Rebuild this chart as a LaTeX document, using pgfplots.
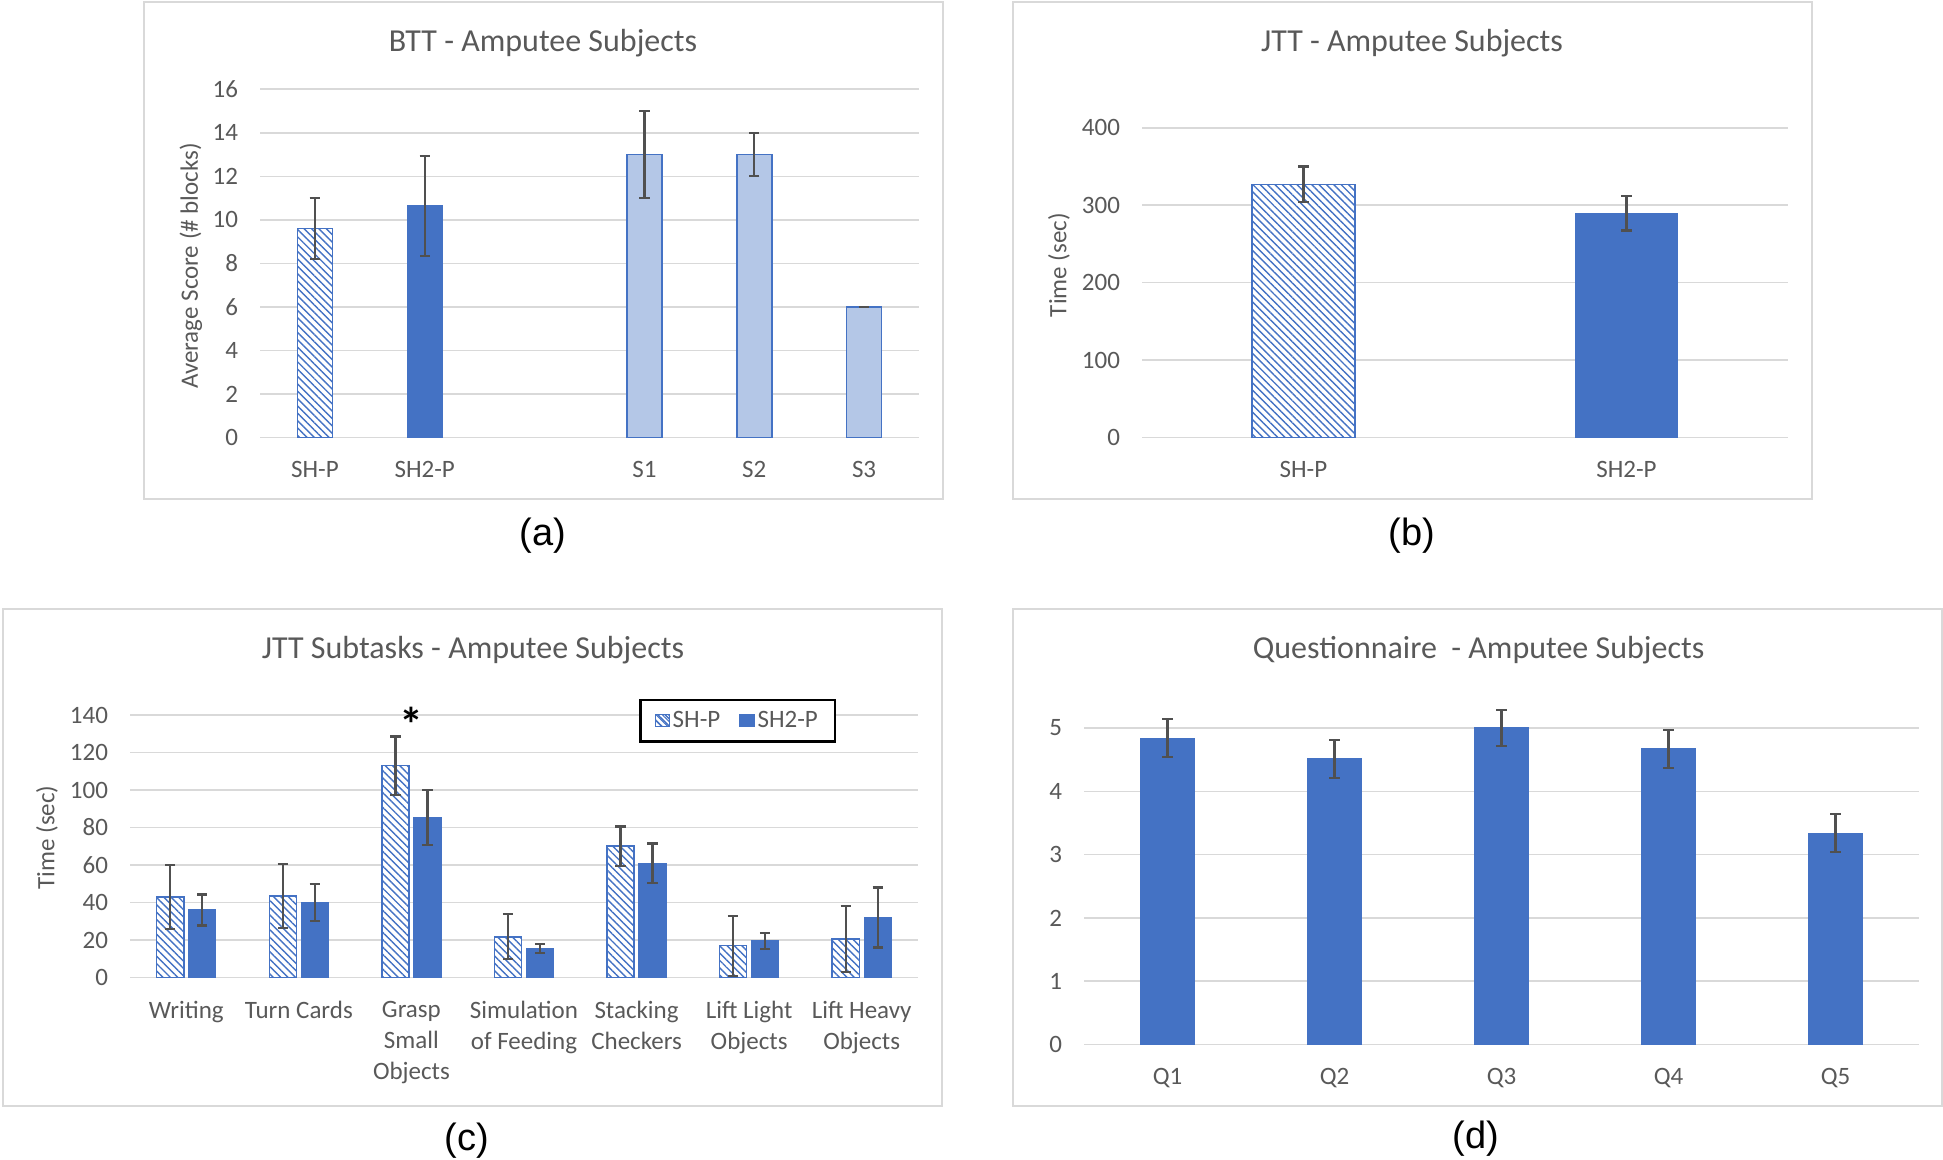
\documentclass[border=0pt]{standalone}
\usepackage{fontspec}
\setmainfont{Carlito}
\newfontfamily\arialf{Liberation Sans}
\usepackage{pgfplots}
\pgfplotsset{compat=1.18}
\usetikzlibrary{patterns.meta}
\definecolor{obl}{HTML}{4472C4}
\definecolor{olt}{HTML}{B4C7E7}
\definecolor{tgray}{HTML}{595959}
\definecolor{ggray}{HTML}{D9D9D9}
\definecolor{egray}{HTML}{505050}
\pgfplotsset{
  excel/.style={
    scale only axis, anchor=south west, enlargelimits=false, clip=false,
    ymin=0,
    axis line style={draw=none}, major tick length=0pt, tick style={draw=none},
    ymajorgrids, grid style={draw=ggray, line width=0.8pt},
    /pgf/number format/assume math mode=true,
    ticklabel style={font=\fontsize{12.5}{15.5}\selectfont, text=tgray},
    yticklabel style={xshift=-7.5pt},
    xticklabel style={yshift=-8.5pt},
    ylabel style={font=\fontsize{12.5}{15}\selectfont, text=tgray, anchor=center},
    ybar,
  },
  hatch/.style={draw=obl, line width=0.75pt, fill=white,
    postaction={pattern={Lines[angle=-45,distance=2.6pt,line width=0.7pt]}, pattern color=obl}},
  solidb/.style={draw=obl, fill=obl, line width=0.5pt},
  lightb/.style={draw=obl, fill=olt, line width=0.75pt},
  errb/.style={/pgfplots/error bars/y dir=both, /pgfplots/error bars/y explicit,
    /pgfplots/error bars/error bar style={draw=egray, line width=1.1pt},
    /pgfplots/error bars/error mark options={rotate=90, draw=egray, line width=1.1pt, mark size=2.6pt}},
}
\newcommand{\cl}[1]{\hbox to 0pt{\hss #1\hss}}
\newcommand{\lblGrasp}{\vtop{\cl{Grasp}\cl{Small}\cl{Objects}}}
\newcommand{\lblSim}{\vtop{\cl{Simulation}\cl{of Feeding}}}
\newcommand{\lblStack}{\vtop{\cl{Stacking}\cl{Checkers}}}
\newcommand{\lblLight}{\vtop{\cl{Lift Light}\cl{Objects}}}
\newcommand{\lblHeavy}{\vtop{\cl{Lift Heavy}\cl{Objects}}}
\begin{document}
\begin{tikzpicture}
\useasboundingbox (0pt,0pt) rectangle (971.5pt,580pt);
% panel frames
\draw[ggray, line width=0.8pt] (72pt,330.5pt) rectangle (471.5pt,579pt);
\draw[ggray, line width=0.8pt] (506.5pt,330.5pt) rectangle (906pt,579pt);
\draw[ggray, line width=0.8pt] (1.5pt,27pt) rectangle (471pt,275.5pt);
\draw[ggray, line width=0.8pt] (506.5pt,27pt) rectangle (971.1pt,275.5pt);

% (a)
\begin{axis}[excel, at={(130pt,361.25pt)}, width=329.5pt, height=174.1pt,
  xmin=-0.5, xmax=5.5, ymax=16, ytick={0,2,...,16},
  xtick={0,1,3,4,5}, xticklabels={SH-P,SH2-P,S1,S2,S3},
  bar width=17.5pt,
  ylabel={Average Score (\# blocks)},
  ylabel style={at={(axis description cs:-0.1047,0.4925)}}]
\addplot[hatch, bar shift=0pt, errb] coordinates {(0,9.6) +- (0,1.4)};
\addplot[solidb, bar shift=0pt, errb] coordinates {(1,10.65) +- (0,2.3)};
\addplot[lightb, bar shift=0pt, errb] coordinates {(3,13) +- (0,2) (4,13) +- (0,1) (5,6) +- (0,0)};
\end{axis}

% (b)
\begin{axis}[excel, at={(571pt,361.25pt)}, width=323pt, height=154.8pt,
  xmin=-0.5, xmax=1.5, ymax=400, ytick={0,100,...,400},
  xtick={0,1}, xticklabels={SH-P,SH2-P},
  bar width=51.3pt,
  ylabel={Time (sec)},
  ylabel style={at={(axis description cs:-0.1285,0.557)}}]
\addplot[hatch, bar shift=0pt, errb] coordinates {(0,327) +- (0,23)};
\addplot[solidb, bar shift=0pt, errb] coordinates {(1,290) +- (0,22.5)};
\end{axis}

% (c)
\begin{axis}[excel, at={(65pt,91.25pt)}, width=394pt, height=131.25pt,
  xmin=-0.5, xmax=6.5, ymax=140, ytick={0,20,...,140},
  xtick={0,...,6},
  xticklabels={Writing,Turn Cards,\lblGrasp,\lblSim,\lblStack,\lblLight,\lblHeavy},
  bar width=13.6pt,
  ylabel={Time (sec)},
  ylabel style={at={(axis description cs:-0.1053,0.533)}},
  legend columns=2,
  legend style={at={(axis description cs:0.896,1.061)}, anchor=north east,
    draw=black, line width=1.2pt, fill=white,
    inner xsep=7pt, inner ysep=4pt,
    font=\fontsize{12.5}{15}\selectfont, text=tgray,
    nodes={inner sep=1.5pt}}]
\addplot[hatch, bar shift=-8pt, errb,
  legend image code/.code={\path[draw=obl, line width=0.6pt, fill=white, postaction={pattern={Lines[angle=-45,distance=2.2pt,line width=0.6pt]}, pattern color=obl}] (0pt,-3pt) rectangle (7pt,3pt);}]
  coordinates {(0,43) +- (0,17) (1,43.5) +- (0,17) (2,113) +- (0,15.5) (3,21.7) +- (0,12) (4,70) +- (0,10.5) (5,17) +- (0,16) (6,20.5) +- (0,17.7)};
\addlegendentry{SH-P\hspace{8pt}\null}
\addplot[solidb, bar shift=8pt, errb,
  legend image code/.code={\path[draw=obl, fill=obl, line width=0.6pt] (0pt,-3pt) rectangle (7pt,3pt);}]
  coordinates {(0,36) +- (0,8.3) (1,40) +- (0,10) (2,85.5) +- (0,14.7) (3,15.5) +- (0,2.4) (4,61) +- (0,10.5) (5,19.5) +- (0,4.4) (6,32) +- (0,16)};
\addlegendentry{SH2-P}
\end{axis}

% (d)
\begin{axis}[excel, at={(542pt,57.7pt)}, width=417.5pt, height=158.3pt,
  xmin=-0.5, xmax=4.5, ymax=5, ytick={0,1,...,5},
  xtick={0,...,4}, xticklabels={Q1,Q2,Q3,Q4,Q5},
  bar width=27pt]
\addplot[solidb, errb] coordinates {(0,4.84) +- (0,0.3) (1,4.515) +- (0,0.3) (2,5) +- (0,0.29) (3,4.67) +- (0,0.3) (4,3.34) +- (0,0.3)};
\end{axis}

% significance mark above Grasp Small Objects
\node[font=\fontsize{24}{24}\selectfont\bfseries, anchor=base, inner sep=0pt] at (205.7pt,209pt) {*};
% titles
\node[font=\fontsize{16}{19}\selectfont, text=tgray] at (271.5pt,558.5pt) {BTT - Amputee Subjects};
\node[font=\fontsize{16}{19}\selectfont, text=tgray] at (706pt,558.5pt) {JTT - Amputee Subjects};
\node[font=\fontsize{16}{19}\selectfont, text=tgray] at (236.5pt,255pt) {JTT Subtasks - Amputee Subjects};
\node[font=\fontsize{16}{19}\selectfont, text=tgray] at (739.3pt,255pt) {Questionnaire \ - Amputee Subjects};
% panel labels
\node[font=\arialf\fontsize{19}{22}\selectfont] at (271.5pt,312pt) {(a)};
\node[font=\arialf\fontsize{19}{22}\selectfont] at (706pt,312pt) {(b)};
\node[font=\arialf\fontsize{19}{22}\selectfont] at (233.5pt,9.5pt) {(c)};
\node[font=\arialf\fontsize{19}{22}\selectfont] at (738pt,10.5pt) {(d)};
\end{tikzpicture}
\end{document}
